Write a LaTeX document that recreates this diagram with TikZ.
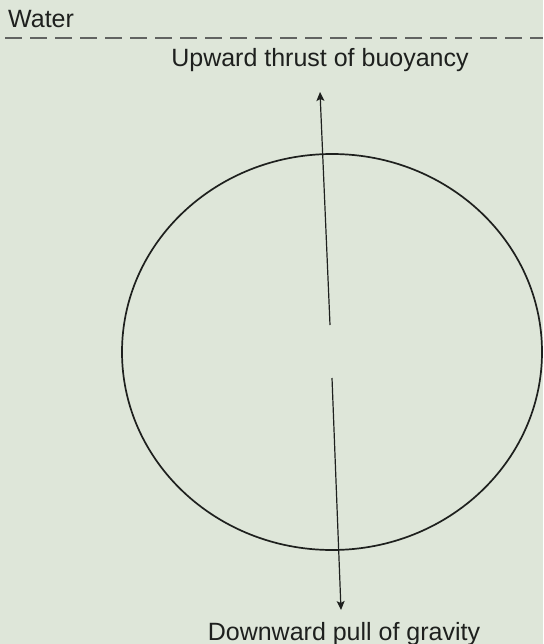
\documentclass[tikz,border=0pt]{standalone}
\usepackage{fontspec}
\setmainfont{Liberation Sans}
\usetikzlibrary{arrows.meta,shapes.geometric}
\definecolor{bg}{RGB}{222,230,217}
\definecolor{ink}{RGB}{30,32,30}
\begin{document}
\begin{tikzpicture}[x=1pt,y=-1pt,
  lbl/.style={font=\fontsize{25}{29}\selectfont, text=ink, inner sep=0pt},
  force/.style={draw=ink, line width=1.2pt, -{Stealth[length=9pt,width=8pt,inset=2pt]}},
  body/.style={draw=ink, line width=1.7pt, ellipse, inner sep=0pt}]
\fill[bg] (0,0) rectangle (543,644);
\useasboundingbox (0,0) rectangle (543,644);
\node[lbl, anchor=base west] (water) at (8,28) {Water};
\coordinate (surfL) at (5,38);
\coordinate (surfR) at (543,38);
\draw[ink!70, line width=1.2pt, dash pattern=on 17pt off 8pt] (surfL) -- (surfR);
\node[lbl, anchor=base] (up) at (320,67) {Upward thrust of buoyancy};
\node[lbl, anchor=base] (down) at (344,640) {Downward pull of gravity};
\node[body, minimum width=420pt, minimum height=396pt] (ball) at (332,352) {};
\coordinate (upstart) at (330,325);
\coordinate (uptip) at (320,92);
\coordinate (downstart) at (332,378);
\coordinate (downtip) at (341,610);
\draw[force] (upstart) -- (uptip);
\draw[force] (downstart) -- (downtip);
\end{tikzpicture}
\end{document}
